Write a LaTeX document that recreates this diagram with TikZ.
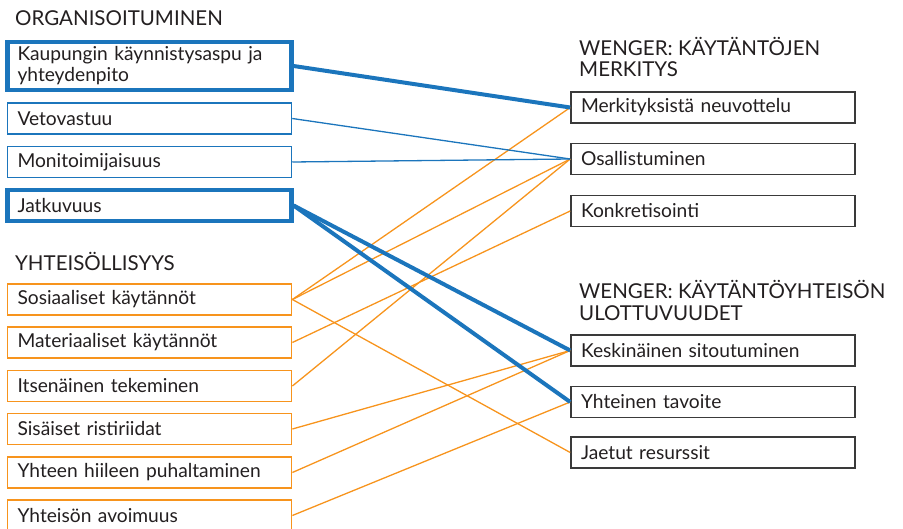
\documentclass[tikz,border=0pt]{standalone}
\usepackage{fontspec}
\setmainfont{Lato}
\definecolor{gblue}{HTML}{1B75BC}
\definecolor{gorange}{HTML}{F7941D}
\definecolor{gtext}{HTML}{231F20}
\definecolor{gdark}{HTML}{3A3A3A}
\tikzset{
  box/.style={rectangle, minimum height=31pt, text width=264pt, inner xsep=10pt, inner ysep=0pt,
    align=left, font=\fontsize{19.2}{21}\selectfont, text=gtext, fill=white},
  lbthin/.style={box, draw=gblue, line width=1.5pt},
  lbthick/.style={box, draw=gblue, line width=4.2pt},
  obox/.style={box, draw=gorange, line width=1.8pt},
  rbox/.style={box, draw=gdark, line width=1.6pt},
  hdr/.style={font=\fontsize{20.5}{22}\selectfont, text=gtext, inner sep=0pt, anchor=base west},
  thickb/.style={draw=gblue, line width=4pt},
  thinb/.style={draw=gblue, line width=1.3pt},
  oline/.style={draw=gorange, line width=1.3pt}
}
\begin{document}
\begin{tikzpicture}[x=1pt,y=-1pt]
\useasboundingbox (0,0) rectangle (903,529);
% headers
\node[hdr] (h1) at (15,26) {ORGANISOITUMINEN};
\node[hdr] (h2) at (15,271) {YHTEISÖLLISYYS};
\node[hdr] (h3a) at (579,56) {WENGER: KÄYTÄNTÖJEN};
\node[hdr] (h3b) at (579,77) {MERKITYS};
\node[hdr] (h4a) at (579,299) {WENGER: KÄYTÄNTÖYHTEISÖN};
\node[hdr] (h4b) at (579,321) {ULOTTUVUUDET};
% left blue
\node[lbthick, minimum height=48pt] (kau) at (149.5,66) {Kaupungin käynnistysaspu ja\\yhteydenpito};
\node[lbthin] (vet) at (149.5,118.5) {Vetovastuu};
\node[lbthin] (mon) at (149.5,162) {Monitoimijaisuus};
\node[lbthick] (jat) at (149.5,205.5) {Jatkuvuus};
% left orange
\node[obox] (sos) at (149.5,299.5) {Sosiaaliset käytännöt};
\node[obox] (mat) at (149.5,342.5) {Materiaaliset käytännöt};
\node[obox] (its) at (149.5,386) {Itsenäinen tekeminen};
\node[obox] (sis) at (149.5,429) {Sisäiset ristiriidat};
\node[obox] (yhh) at (149.5,472.5) {Yhteen hiileen puhaltaminen};
\node[obox] (yav) at (149.5,515.5) {Yhteisön avoimuus};
% right
\node[rbox] (mer) at (713,107.5) {Merkityksistä neuvottelu};
\node[rbox] (osa) at (713,159) {Osallistuminen};
\node[rbox] (kon) at (713,211) {Konkretisointi};
\node[rbox] (kes) at (713,350.5) {Keskinäinen sitoutuminen};
\node[rbox] (yta) at (713,402) {Yhteinen tavoite};
\node[rbox] (jae) at (713,452.5) {Jaetut resurssit};
% connectors
\draw[oline] (sos.east) -- (mer.west);
\draw[oline] (sos.east) -- (osa.west);
\draw[oline] (sos.east) -- (jae.west);
\draw[oline] (mat.east) -- (kon.west);
\draw[oline] (its.east) -- (osa.west);
\draw[oline] (sis.east) -- (kes.west);
\draw[oline] (yhh.east) -- (kes.west);
\draw[oline] (yav.east) -- (yta.west);
\draw[thinb] (vet.east) -- (osa.west);
\draw[thinb] (mon.east) -- (osa.west);
\draw[thickb] (kau.east) -- (mer.west);
\draw[thickb] (jat.east) -- (kes.west);
\draw[thickb] (jat.east) -- (yta.west);
\end{tikzpicture}
\end{document}
